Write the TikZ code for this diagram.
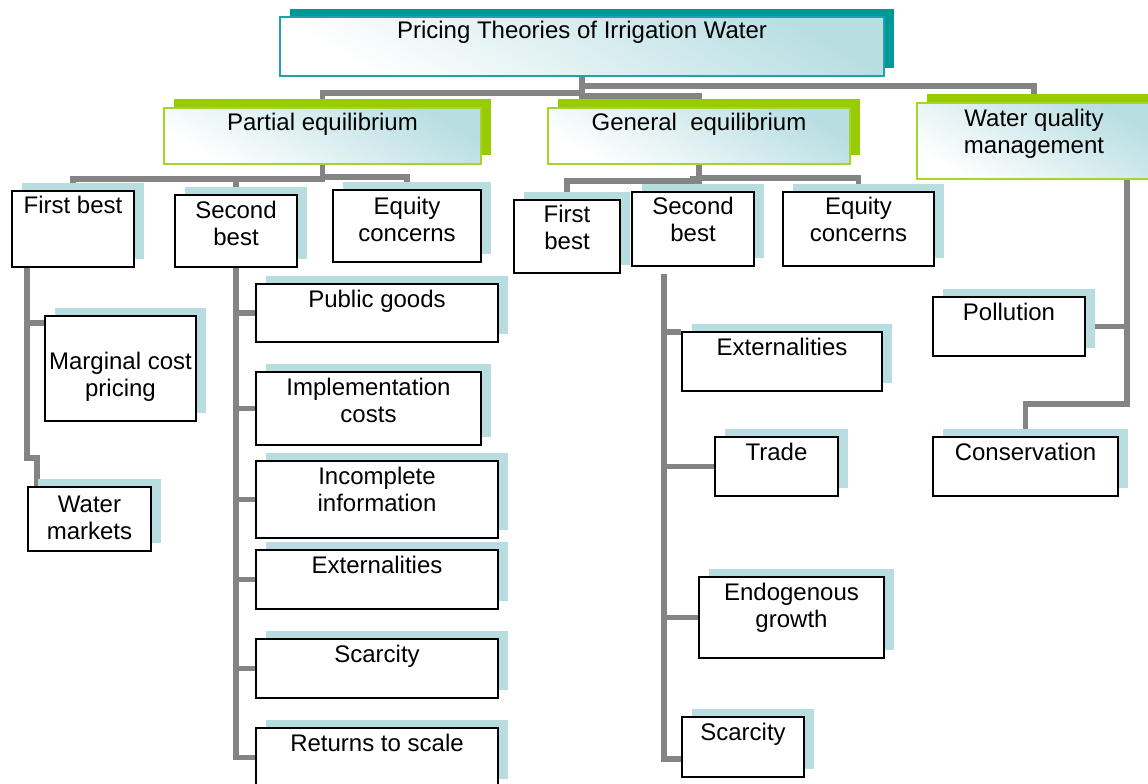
\documentclass[tikz,border=0pt]{standalone}
\usepackage{fontspec}
\setmainfont{Liberation Sans}
\usetikzlibrary{shadows, backgrounds}
\definecolor{tealsombra}{RGB}{0,153,153}
\definecolor{tealborde}{RGB}{32,163,168}
\definecolor{verdesombra}{RGB}{153,204,0}
\definecolor{verdeborde}{RGB}{165,212,45}
\definecolor{celeste}{RGB}{184,222,226}
\definecolor{sombra}{RGB}{183,221,224}
\definecolor{gris}{RGB}{132,132,132}
\newcommand{\boxtext}[4][22pt]{\parbox[t][#3][t]{#2}{\centering\rule{0pt}{#1}#4}}
\tikzstyle{theory} = [draw=tealborde, line width=2pt, top color=celeste, bottom color=white, shading angle=-30, inner sep=0pt, general shadow={fill=tealsombra, shadow xshift=10pt, shadow yshift=8pt}]
\tikzstyle{approach} = [draw=verdeborde, line width=2pt, top color=celeste, bottom color=white, shading angle=-30, inner sep=0pt, general shadow={fill=verdesombra, shadow xshift=10pt, shadow yshift=9pt}]
\tikzstyle{leaf} = [draw=black, line width=1.8pt, fill=white, inner sep=0pt, general shadow={fill=sombra, shadow xshift=10pt, shadow yshift=8pt}]
\tikzstyle{link} = [draw=gris, line width=5.5pt]

\begin{document}
\begin{tikzpicture}[x=1pt, y=-1pt, font=\fontsize{24pt}{27pt}\selectfont]
	\useasboundingbox (0,0) rectangle (1148,784);
	% theory and approaches
	\node[theory] (top) at (582,46.5) {\boxtext{604pt}{59pt}{Pricing Theories of Irrigation Water}};
	\node[approach] (partial) at (322.5,136) {\boxtext{317pt}{56pt}{Partial equilibrium}};
	\node[approach] (general) at (699,136) {\boxtext{302pt}{56pt}{General\ \ equilibrium}};
	\node[approach] (wq) at (1034,141) {\boxtext[23pt]{234pt}{76pt}{Water quality\\management}};
	% partial equilibrium
	\node[leaf] (pfirst) at (73,229) {\boxtext{122pt}{76pt}{First best}};
	\node[leaf] (psecond) at (236,231) {\boxtext[23pt]{122pt}{72pt}{Second\\best}};
	\node[leaf] (pequity) at (407,226) {\boxtext[24pt]{148pt}{72pt}{Equity\\concerns}};
	\node[leaf] (pmarg) at (120.5,368.5) {\boxtext[53pt]{151pt}{105pt}{Marginal cost\\pricing}};
	\node[leaf] (pwater) at (89.5,519) {\boxtext[25pt]{123pt}{64pt}{Water\\markets}};
	\node[leaf] (ppublic) at (377,313) {\boxtext[23pt]{242pt}{58pt}{Public goods}};
	\node[leaf] (pimpl) at (368.5,408.5) {\boxtext[23pt]{225pt}{73pt}{Implementation\\costs}};
	\node[leaf] (pincomp) at (377,499.5) {\boxtext[23pt]{242pt}{77pt}{Incomplete\\information}};
	\node[leaf] (pext) at (377,579.5) {\boxtext[23pt]{242pt}{59pt}{Externalities}};
	\node[leaf] (pscar) at (377,668.5) {\boxtext[23pt]{242pt}{59pt}{Scarcity}};
	\node[leaf] (pret) at (377,757.5) {\boxtext[23pt]{242pt}{59pt}{Returns to scale}};
	% general equilibrium
	\node[leaf] (gfirst) at (567,236.5) {\boxtext{106pt}{73pt}{First\\best}};
	\node[leaf] (gsecond) at (693,229) {\boxtext{122pt}{74pt}{Second\\best}};
	\node[leaf] (gequity) at (858.5,229) {\boxtext{151pt}{74pt}{Equity\\concerns}};
	\node[leaf] (gext) at (782,361.5) {\boxtext[23pt]{200pt}{59pt}{Externalities}};
	\node[leaf] (gtrade) at (776.5,466.5) {\boxtext[23pt]{123pt}{59pt}{Trade}};
	\node[leaf] (gendo) at (791.5,617.5) {\boxtext[23pt]{185pt}{81pt}{Endogenous\\growth}};
	\node[leaf] (gscar) at (743,747) {\boxtext[23pt]{122pt}{60pt}{Scarcity}};
	% water quality
	\node[leaf] (wpoll) at (1009,326.5) {\boxtext[23pt]{152pt}{59pt}{Pollution}};
	\node[leaf] (wcons) at (1025.5,466.5) {\boxtext[23pt]{185pt}{59pt}{Conservation}};
	% connectors
	\begin{scope}[on background layer]
		\draw[link] (top.south) -- ++(0,16) -| (partial.north);
		\draw[link] (top.south) -- ++(0,19) -| (general.north);
		\draw[link] (top.south) -- ++(0,9) -| (wq.north);
		\draw[link] (partial.south) -- ++(0,14) -| (pfirst.north);
		\draw[link] (partial.south) -- ++(0,14) -| (psecond.north);
		\draw[link] (partial.south) -- ++(0,12) -| (pequity.north);
		\draw[link] (general.south) -- ++(0,16) -| (gfirst.north);
		\draw[link] (general.south) -- ++(0,14) -| (gsecond.north);
		\draw[link] (general.south) -- ++(0,13) -| (gequity.north);
		\draw[link] ([xshift=16pt]pfirst.south west) |- ([yshift=-8pt]pmarg.north west);
		\draw[link] ([xshift=16pt]pfirst.south west) -- ++(0,190) -| ([xshift=10pt]pwater.north west);
		\foreach \hijo in {ppublic, pimpl, pincomp, pext, pscar, pret}
			\draw[link] (psecond.south) |- (\hijo.west);
		\draw[link] ([xshift=33pt,yshift=-7pt]gsecond.south west) |- ([yshift=-1pt]gext.north west);
		\draw[link] ([xshift=33pt,yshift=-7pt]gsecond.south west) |- (gtrade.west);
		\draw[link] ([xshift=33pt,yshift=-7pt]gsecond.south west) |- (gendo.west);
		\draw[link] ([xshift=33pt,yshift=-7pt]gsecond.south west) |- ([yshift=19pt]gscar.south west);
		\draw[link] ([xshift=211pt]wq.south west) |- (wpoll.east);
		\draw[link] ([xshift=211pt]wq.south west) -- ++(0,224) -| (wcons.north);
	\end{scope}
\end{tikzpicture}
\end{document}
